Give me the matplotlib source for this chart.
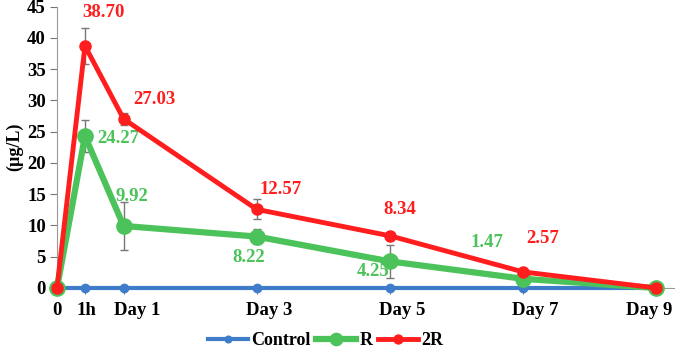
import matplotlib.pyplot as plt
import matplotlib.transforms as mtransforms
import numpy as np

plt.rcParams['font.family'] = ['Liberation Serif', 'DejaVu Serif']
plt.rcParams['font.weight'] = 'bold'

x_labels = ["0", "1h", "Day 1", "Day 3", "Day 5", "Day 7", "Day 9"]
x_days = [0, 0.42, 1, 3, 5, 7, 9]
control = [0, 0, 0, 0, 0, 0, 0]
r_vals = [0, 24.27, 9.92, 8.22, 4.25, 1.47, 0]
r_err = [0, 2.6, 3.9, 1.2, 2.6, 0, 0]
r2_vals = [0, 38.70, 27.03, 12.57, 8.34, 2.57, 0]
r2_err = [0, 2.9, 0.9, 1.6, 0, 0, 0]

blue = "#3f7dcb"
green = "#4cc35a"
red = "#ff1d1d"

fig = plt.figure(figsize=(6.75, 3.53), dpi=100)
ax = fig.add_axes([57 / 675, 65 / 353, 618 / 675, 281.5 / 353])

ax.plot(x_days, control, "-o", color=blue, lw=3, ms=6, label="Control", clip_on=False, zorder=3)
ax.errorbar(x_days, r_vals, yerr=r_err, fmt="none", ecolor="#777777", elinewidth=1, capsize=3, zorder=2)
ax.plot(x_days, r_vals, "-o", color=green, lw=4.5, ms=11, label="R", clip_on=False, zorder=4)
ax.errorbar(x_days, r2_vals, yerr=r2_err, fmt="none", ecolor="#777777", elinewidth=1, capsize=3, zorder=2)
ax.plot(x_days, r2_vals, "-o", color=red, lw=3.5, ms=8, label="2R", clip_on=False, zorder=5)

# value labels (offsets in points)
r_offsets = [None, (24, -2), (6, 21), (-6, -15), (-12, -7), (-26, 26), None]
r2_offsets = [None, (13, 24), (22, 14), (17, 14), (7, 19), (14, 24), None]
for xv, yv, off in zip(x_days, r_vals, r_offsets):
    if off:
        ax.annotate(f"{yv:.2f}", (xv, yv), xytext=off, textcoords="offset points",
                    ha="center", va="center", color=green, fontsize=13.5, fontweight="bold")
for xv, yv, off in zip(x_days, r2_vals, r2_offsets):
    if off:
        ax.annotate(f"{yv:.2f}", (xv, yv), xytext=off, textcoords="offset points",
                    ha="center", va="center", color=red, fontsize=13.5, fontweight="bold")

ax.set_xlim(0, 9.28)
ax.set_ylim(0, 45)
ax.set_yticks(np.arange(0, 46, 5))
ax.set_xticks(x_days)
ax.set_xticklabels(x_labels)
ax.tick_params(axis="both", labelsize=13.5, colors="#777777", labelcolor="black")
ax.tick_params(axis="x", pad=6, length=4)
ax.tick_params(axis="y", length=5, pad=3)
for lab in ax.get_xticklabels() + ax.get_yticklabels():
    lab.set_fontweight("bold")
# the day labels sit a little off their ticks in the original
label_shift_px = [0, 1, 14, 12, 12, 12, -7]
for lab, dx in zip(ax.get_xticklabels(), label_shift_px):
    lab.set_transform(lab.get_transform() + mtransforms.ScaledTranslation(dx / 100, 0, fig.dpi_scale_trans))
ax.spines["top"].set_visible(False)
ax.spines["right"].set_visible(False)
ax.spines["left"].set_color("#999999")
ax.spines["bottom"].set_color("#999999")
ax.set_ylabel("(µg/L)", fontsize=13, fontweight="bold", labelpad=3)

ax.legend(loc="center", bbox_to_anchor=(0.435, -0.186), ncol=3, frameon=False,
          prop={"size": 13, "weight": "bold"}, handlelength=2.2, columnspacing=0.3,
          handletextpad=0.2, markerscale=0.8)

fig.savefig("out.png", dpi=100)
